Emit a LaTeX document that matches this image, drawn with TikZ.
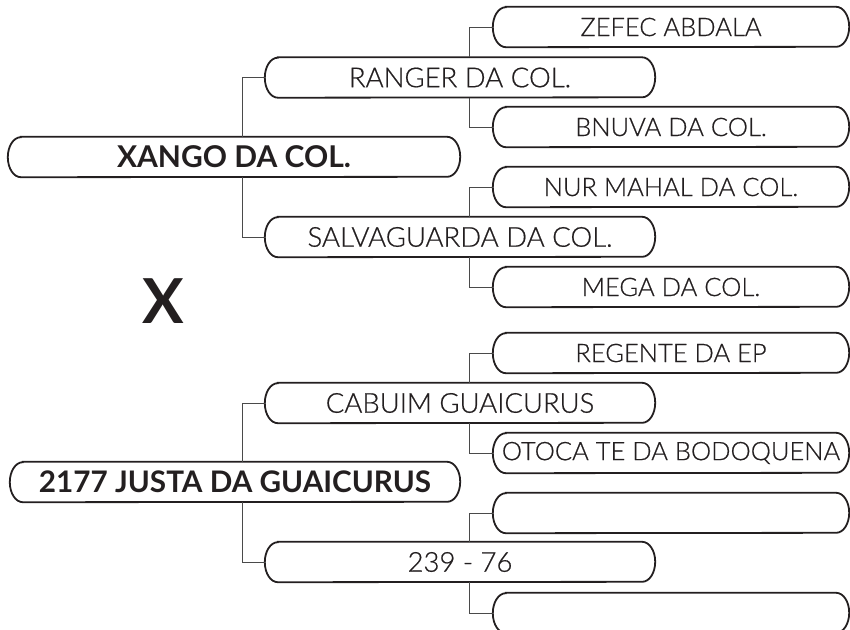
\documentclass[tikz,border=0pt]{standalone}
\usepackage{fontspec}
\setmainfont{Lato}
\newfontfamily\lightfont[FakeBold=0.6]{Lato Light}
\definecolor{boxcol}{HTML}{231F20}
\definecolor{conncol}{HTML}{4A4A4A}
\newcommand\capsule[1]{%
  \draw[capline] ([xshift=13pt]#1.north west) -- ([xshift=-13pt]#1.north east)
    arc[start angle=90, end angle=-90, x radius=13pt, y radius=20pt]
    -- ([xshift=13pt]#1.south west)
    arc[start angle=270, end angle=90, x radius=13pt, y radius=20pt] -- cycle;}
\tikzset{
  box/.style={rectangle, draw=none, inner sep=0pt, minimum height=40pt, text=boxcol},
  gone/.style={box, minimum width=452pt, font=\fontsize{30}{32}\selectfont\bfseries},
  gtwo/.style={box, minimum width=390pt, font=\lightfont\fontsize{27.5}{30}\selectfont},
  gthree/.style={box, minimum width=356pt, font=\lightfont\fontsize{25.5}{28}\selectfont},
  capline/.style={line width=1.8pt, draw=boxcol},
  conn/.style={line width=1pt, draw=conncol},
}
\begin{document}
\begin{tikzpicture}[x=1pt, y=-1pt]
\useasboundingbox (0,0) rectangle (850,629);
\clip (0,0) rectangle (850,629);
% generation 1
\node[gone] (xango) at (234,157) {XANGO DA COL.};
\node[gone, minimum width=450pt, font=\fontsize{29.7}{32}\selectfont\bfseries] (justa) at (235,482) {2177 JUSTA DA GUAICURUS};
% generation 2
\node[gtwo] (ranger) at (460,77.5) {RANGER DA COL.};
\node[gtwo] (salva) at (460,237) {SALVAGUARDA DA COL.};
\node[gtwo] (cabuim) at (460,403) {CABUIM GUAICURUS};
\node[gtwo] (n239) at (460,562) {239 - 76};
% generation 3
\node[gthree] (zefec) at (671,27) {ZEFEC ABDALA};
\node[gthree] (bnuva) at (671,127) {BNUVA DA COL.};
\node[gthree] (nur) at (671,187) {NUR MAHAL DA COL.};
\node[gthree] (mega) at (671,287) {MEGA DA COL.};
\node[gthree] (regente) at (671,353) {REGENTE DA EP};
\node[gthree] (otoca) at (671,453) {OTOCA TE DA BODOQUENA};
\node[gthree] (empa) at (671,513) {};
\node[gthree] (empb) at (671,613) {};
% X
\node[font=\fontsize{62}{66}\selectfont\bfseries, text=boxcol, inner sep=0pt] (cross) at (163,301) {X};
% outlines
\foreach \n in {xango,justa,ranger,salva,cabuim,n239,zefec,bnuva,nur,mega,regente,otoca,empa,empb}{\capsule{\n}}
% connector columns
\coordinate (ca) at (242,0);
\coordinate (cb) at (469,0);
\draw[conn] (ca |- xango.north) |- (ranger.west);
\draw[conn] (ca |- xango.south) |- (salva.west);
\draw[conn] (ca |- justa.north) |- (cabuim.west);
\draw[conn] (ca |- justa.south) |- (n239.west);
\draw[conn] (cb |- ranger.north) |- (zefec.west);
\draw[conn] (cb |- ranger.south) |- (bnuva.west);
\draw[conn] (cb |- salva.north) |- (nur.west);
\draw[conn] (cb |- salva.south) |- (mega.west);
\draw[conn] (cb |- cabuim.north) |- (regente.west);
\draw[conn] (cb |- cabuim.south) |- (otoca.west);
\draw[conn] (cb |- n239.north) |- (empa.west);
\draw[conn] (cb |- n239.south) |- (empb.west);
\end{tikzpicture}
\end{document}
